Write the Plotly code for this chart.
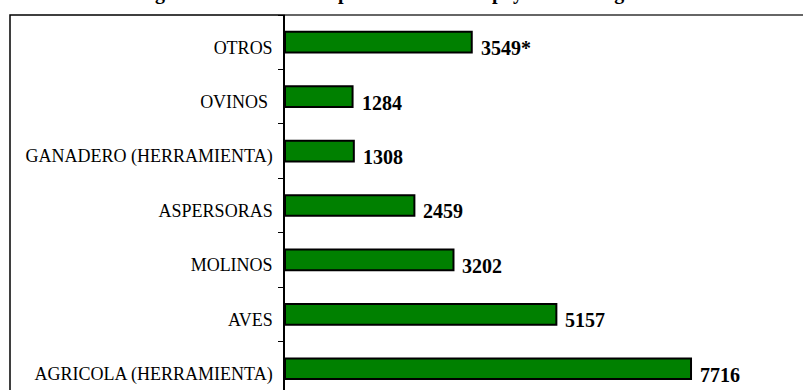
import plotly.graph_objects as go

# Data (bottom to top)
categories = ["AGRICOLA (HERRAMIENTA)", "AVES", "MOLINOS", "ASPERSORAS",
              "GANADERO (HERRAMIENTA)", "OVINOS\u00a0", "OTROS"]
values = [7716, 5157, 3202, 2459, 1308, 1284, 3549]
value_labels = ["7716", "5157", "3202", "2459", "1308", "1284", "3549*"]
title_text = "Número de registros inscritos en el padrón único de apoyo al sector ganadero"

W, H = 803, 390
L, T = 285, 15
plot_w = W - L
plot_h = H - T

fig = go.Figure()
fig.add_trace(go.Bar(
    x=values, y=categories, orientation="h",
    marker=dict(color="#008000", line=dict(color="black", width=2)),
    width=0.38, hoverinfo="skip",
))

for c, v, t in zip(categories, values, value_labels):
    fig.add_annotation(x=v, y=c, xref="x", yref="y", text="<b>%s</b>" % t,
                       showarrow=False, xanchor="left", yanchor="middle",
                       xshift=7, yshift=-6,
                       font=dict(family="Liberation Serif", size=20, color="black"))

# title (mostly cropped above the visible area, as in the source image)
fig.add_annotation(x=(36 - L) / plot_w, y=1 + (T - 6) / plot_h, xref="paper", yref="paper",
                   text="<b>%s</b>" % title_text, showarrow=False,
                   xanchor="left", yanchor="bottom",
                   font=dict(family="Liberation Serif", size=20, color="black"))

# outer frame of the chart object
fig.add_shape(type="rect", xref="paper", yref="paper",
              x0=(10 - L) / plot_w, x1=1.05, y0=-0.1, y1=1.0,
              line=dict(color="black", width=1.5), layer="above")
# plot area top border
fig.add_shape(type="line", xref="paper", yref="paper",
              x0=0, x1=1.05, y0=1.0, y1=1.0,
              line=dict(color="#666666", width=2), layer="above")

fig.update_layout(
    width=W, height=H,
    margin=dict(l=L, r=0, t=T, b=0, pad=0),
    paper_bgcolor="white", plot_bgcolor="white",
    showlegend=False,
    font=dict(family="Liberation Serif", size=18, color="black"),
    xaxis=dict(range=[0, 9844], visible=False, fixedrange=True),
    yaxis=dict(type="category", categoryorder="array", categoryarray=categories,
               range=[-0.39, 6.5], showline=True, linecolor="black", linewidth=1.5,
               ticks="outside", tickson="boundaries", ticklen=5, tickcolor="black",
               tickwidth=1, ticklabelstandoff=7, ticklabelshift=5,
               showgrid=False, zeroline=False,
               tickfont=dict(family="Liberation Serif", size=18, color="black"),
               fixedrange=True),
)

fig.write_html("out.html")
